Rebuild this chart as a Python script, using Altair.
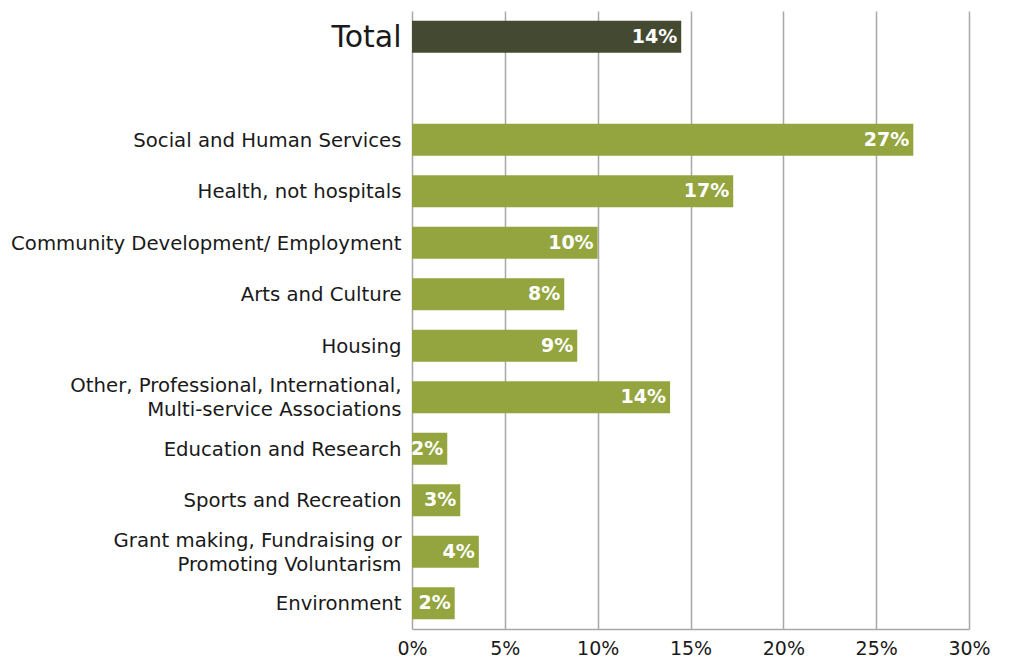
import altair as alt
import pandas as pd

categories = [
    "Total",
    "Social and Human Services",
    "Health, not hospitals",
    "Community Development/ Employment",
    "Arts and Culture",
    "Housing",
    "Other, Professional, International,|Multi-service Associations",
    "Education and Research",
    "Sports and Recreation",
    "Grant making, Fundraising or|Promoting Voluntarism",
    "Environment",
]
values = [14.5, 27.0, 17.3, 10.0, 8.2, 8.9, 13.9, 1.9, 2.6, 3.6, 2.3]
value_labels = ["14%", "27%", "17%", "10%", "8%", "9%", "14%", "2%", "3%", "4%", "2%"]
groups = ["total"] + ["sector"] * 10
x_ticks = [0, 5, 10, 15, 20, 25, 30]

df = pd.DataFrame({"cat": categories, "value": values, "label": value_labels, "group": groups})
domain = [categories[0], "gap"] + categories[1:]

FONT = "DejaVu Sans"

y_enc = alt.Y(
    "cat:N",
    scale=alt.Scale(domain=domain, paddingInner=0.38, paddingOuter=0.19),
    axis=alt.Axis(
        title=None,
        ticks=False,
        domain=False,
        grid=False,
        labelExpr="datum.value == 'gap' ? '' : split(datum.value, '|')",
        labelFontSize={"expr": "datum.value == 'Total' ? 30 : 19.7"},
        labelOffset={"expr": "indexof(datum.value, '|') >= 0 ? -11 : 1"},
        labelColor="#1a1a1a",
        labelFont=FONT,
        labelPadding=11,
        labelLineHeight=24,
        labelLimit=420,
    ),
)

x_enc = alt.X(
    "value:Q",
    scale=alt.Scale(domain=[0, 30], nice=False),
    axis=alt.Axis(
        title=None,
        values=x_ticks,
        labelExpr="datum.value + '%'",
        ticks=False,
        grid=True,
        gridColor="#a8a8a8",
        gridWidth=1.5,
        domainColor="#a8a8a8",
        domainWidth=1.5,
        labelFontSize=19,
        labelColor="#1a1a1a",
        labelFont=FONT,
        labelPadding=10,
        labelFlush=False,
    ),
)

bars = alt.Chart(df).mark_bar().encode(
    x=x_enc,
    y=y_enc,
    color=alt.Color(
        "group:N",
        scale=alt.Scale(domain=["total", "sector"], range=["#444a31", "#94a53f"]),
        legend=None,
    ),
)

text = alt.Chart(df).mark_text(
    align="right", baseline="middle", dx=-4, color="white", fontWeight="bold", fontSize=19, font=FONT
).encode(x="value:Q", y=alt.Y("cat:N", scale=alt.Scale(domain=domain)), text="label:N")

chart = (
    alt.layer(bars, text)
    .properties(
        width=557,
        height=618,
        autosize=alt.AutoSizeParams(type="none"),
        padding={"left": 404, "top": 3, "right": 33, "bottom": 30},
        background="white",
    )
    .configure_view(stroke=None)
)

chart.save("out.html", embed_options={"renderer": "svg", "actions": False})
